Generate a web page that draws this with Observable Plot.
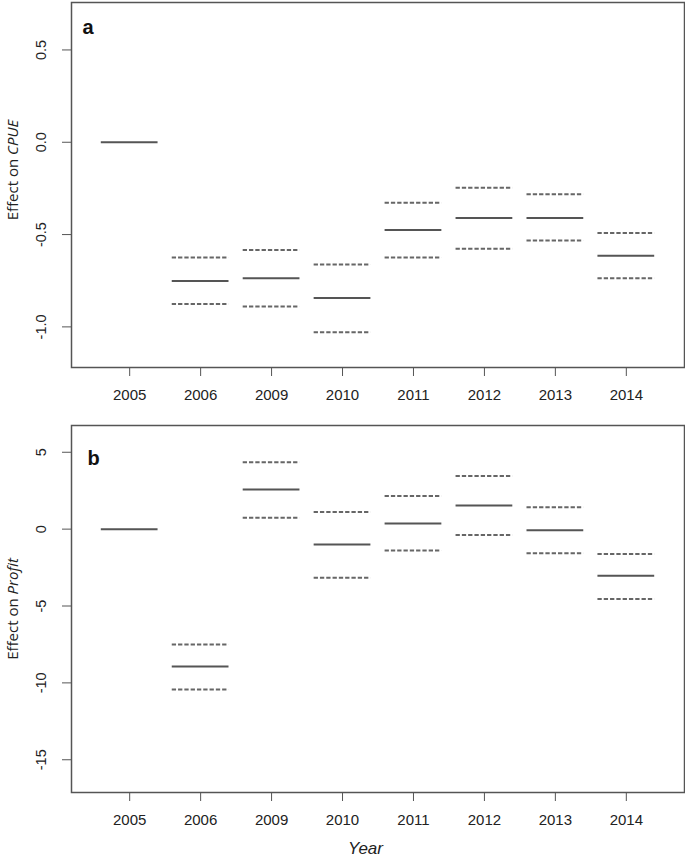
<!DOCTYPE html>
<html><head><meta charset="utf-8">
<script src="https://cdn.jsdelivr.net/npm/d3@7"></script>
<script src="https://cdn.jsdelivr.net/npm/@observablehq/plot@0.6"></script>
<style>
body{margin:0;background:#fff;}
#chart svg{display:block;}
</style>
</head><body><div id="chart"></div>
<script>
const years = ["2005","2006","2009","2010","2011","2012","2013","2014"];
const cpueEst   = [0, -0.752, -0.736, -0.844, -0.475, -0.410, -0.410, -0.615];
const cpueUpper = [null, -0.624, -0.583, -0.662, -0.327, -0.246, -0.281, -0.491];
const cpueLower = [null, -0.876, -0.890, -1.029, -0.624, -0.577, -0.532, -0.737];
const profitEst   = [0, -8.93, 2.57, -1.00, 0.37, 1.54, -0.07, -3.04];
const profitUpper = [null, -7.50, 4.35, 1.11, 2.15, 3.46, 1.43, -1.61];
const profitLower = [null, -10.43, 0.74, -3.17, -1.39, -0.39, -1.57, -4.54];
const cpueTicks = [-1.0, -0.5, 0.0, 0.5];
const cpueTickLabels = ["-1.0", "-0.5", "0.0", "0.5"];
const profitTicks = [-15, -10, -5, 0, 5];
const profitTickLabels = ["-15", "-10", "-5", "0", "5"];

const LINE = "#555";
const half = 0.4;

function panel(o) {
  const rows = years.map((y, i) => ({i: i + 1, year: y, est: o.est[i], up: o.up[i], lo: o.lo[i]}));
  const ci = rows.filter(d => d.up != null);
  const tickRows = o.ticks.map((t, k) => ({t, label: o.tickLabels[k]}));
  const marks = [
    Plot.frame({stroke: LINE, strokeWidth: 1.5}),
    Plot.axisX({ticks: years.map((_, i) => i + 1), tickFormat: () => "", tickSize: 9, stroke: LINE, label: null}),
    Plot.text(years.map((y, i) => ({i: i + 1, y})), {x: "i", text: "y", frameAnchor: "bottom", dy: 28, lineAnchor: "middle", fontSize: 15, fill: "#222"}),
    Plot.axisY({ticks: o.ticks, tickSize: 9, tickFormat: () => "", stroke: LINE, label: null}),
    Plot.text(tickRows, {y: "t", text: "label", frameAnchor: "left", dx: -30, rotate: -90, textAnchor: "middle", lineAnchor: "middle", fontSize: 14.5, fill: "#222"}),
    Plot.ruleY(rows, {y: "est", x1: d => d.i - half, x2: d => d.i + half, stroke: LINE, strokeWidth: 2}),
    Plot.ruleY(ci, {y: "up", x1: d => d.i - half, x2: d => d.i + half, stroke: "#666", strokeWidth: 2, strokeDasharray: "4.3,2"}),
    Plot.ruleY(ci, {y: "lo", x1: d => d.i - half, x2: d => d.i + half, stroke: "#666", strokeWidth: 2, strokeDasharray: "4.3,2"}),
    Plot.text([o.tag], {frameAnchor: "top-left", dx: o.tagDx, dy: o.tagDy, fontWeight: "bold", fontSize: 20, textAnchor: "start", lineAnchor: "bottom", fill: "#111"})
  ];
  if (o.xlabel) {
    marks.push(Plot.text([o.xlabel], {frameAnchor: "bottom", dx: -12.5, dy: 56, fontStyle: "italic", fontSize: 17, lineAnchor: "middle", fill: "#222"}));
  }
  const svg = Plot.plot({
    width: 685,
    height: o.height,
    marginLeft: 71,
    marginRight: 1,
    marginTop: o.marginTop,
    marginBottom: o.marginBottom,
    style: {fontFamily: "'Liberation Sans', Arial, sans-serif", fontSize: "14px", background: "#fff", overflow: "visible"},
    x: {type: "linear", domain: [0.18, 8.82], axis: null},
    y: {domain: o.domain, axis: null},
    marks
  });
  const t = d3.select(svg).append("text")
    .attr("transform", `translate(18,${o.ylabelY}) rotate(-90)`)
    .attr("text-anchor", "middle")
    .attr("font-family", "'Open Sans', sans-serif")
    .attr("font-size", 15)
    .attr("fill", "#222");
  t.append("tspan").text("Effect on ");
  t.append("tspan").attr("font-style", "italic").text(o.ylabelItalic);
  return svg;
}

const chart = document.getElementById("chart");
chart.appendChild(panel({
  est: cpueEst, up: cpueUpper, lo: cpueLower,
  ticks: cpueTicks, tickLabels: cpueTickLabels,
  domain: [-1.220, 0.757], height: 410, marginTop: 2, marginBottom: 43,
  tag: "a", tagDx: 11, tagDy: 31, ylabelY: 170, ylabelItalic: "CPUE"
}));
chart.appendChild(panel({
  est: profitEst, up: profitUpper, lo: profitLower,
  ticks: profitTicks, tickLabels: profitTickLabels,
  domain: [-17.13, 6.74], height: 447, marginTop: 15, marginBottom: 65,
  tag: "b", tagDx: 16, tagDy: 39, ylabelY: 199, ylabelItalic: "Profit", xlabel: "Year"
}));
</script>
</body></html>
